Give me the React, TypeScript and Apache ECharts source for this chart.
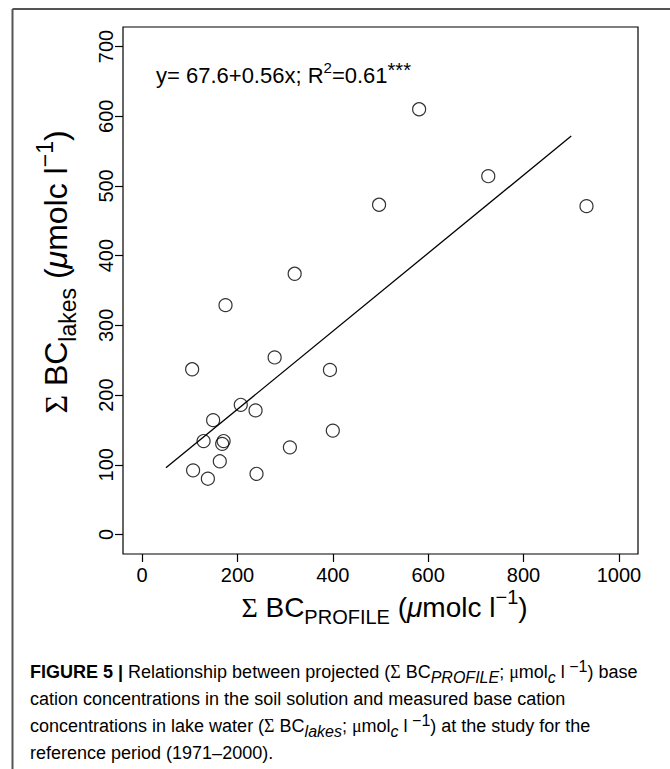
import React, { useEffect, useRef } from "react";
import * as echarts from "echarts";

// Observed data: sum BC in soil profile (x) vs sum BC in lakes (y)
const xValues = [105, 175, 278, 207, 238, 149, 129, 171, 168, 310, 163, 107, 138, 240, 581, 726, 497, 932, 394, 400, 320];
const yValues = [237, 329, 254, 186, 178, 164, 134, 134, 130, 125, 105, 92, 80, 87, 610, 514, 473, 471, 236, 149, 374];

const xTicks = [0, 200, 400, 600, 800, 1000];
const yTicks = [0, 100, 200, 300, 400, 500, 600, 700];

// Regression line shown in the figure
const fitIntercept = 67.6;
const fitSlope = 0.56;
const fitRange = [50, 900];

const SANS = "Liberation Sans";
const SERIF = "Liberation Serif";

function richFor(F: number, H: number, color: string, subRatio = 0.7) {
  const s = Math.round(F * subRatio);
  return {
    m: { fontSize: F, lineHeight: H, fontFamily: SANS, color, verticalAlign: "middle" },
    b: { fontSize: F, lineHeight: H, fontFamily: SANS, fontWeight: "bold", color: "#1a1a1a", verticalAlign: "middle" },
    g: { fontSize: F, lineHeight: H, fontFamily: SERIF, color, verticalAlign: "middle" },
    i: { fontSize: F, lineHeight: H, fontFamily: SANS, fontStyle: "italic", color, verticalAlign: "middle" },
    sub: { fontSize: s, lineHeight: s, fontFamily: SANS, color, verticalAlign: "bottom" },
    subi: { fontSize: s, lineHeight: s, fontFamily: SANS, fontStyle: "italic", color, verticalAlign: "bottom" },
    sup: { fontSize: s, lineHeight: s, fontFamily: SANS, color, verticalAlign: "top" },
    ast: { fontSize: Math.round(F * 0.9), lineHeight: Math.round(F * 0.9), fontFamily: SANS, color, verticalAlign: "top" },
  };
}

export default function App() {
  const ref = useRef<HTMLDivElement>(null);
  useEffect(() => {
    if (!ref.current) return;
    const chart = echarts.init(ref.current, undefined, { renderer: "svg" });
    const points = xValues.map((x, i) => [x, yValues[i]]);
    const fit = fitRange.map((x) => [x, fitIntercept + fitSlope * x]);

    const gridLeft = 123;
    const gridRight = 638;
    const gridTop = 27;
    const gridBottom = 554;

    const option: any = {
      animation: false,
      grid: {
        left: gridLeft,
        top: gridTop,
        width: gridRight - gridLeft,
        height: gridBottom - gridTop,
        show: true,
        borderColor: "#000",
        borderWidth: 1.2,
        backgroundColor: "#fff",
        containLabel: false,
        outerBoundsMode: "none",
      },
      xAxis: {
        type: "value",
        min: -40,
        max: 1040,
        position: "bottom",
        axisLine: { show: false, onZero: false },
        splitLine: { show: false },
        axisTick: { show: true, inside: false, customValues: xTicks, length: 8, lineStyle: { color: "#000", width: 1.2 } },
        axisLabel: {
          customValues: xTicks,
          fontSize: 20,
          fontFamily: SANS,
          color: "#000",
          margin: 11,
          formatter: (v: number) => String(v),
        },
      },
      yAxis: {
        type: "value",
        min: -28,
        max: 728,
        position: "left",
        axisLine: { show: false, onZero: false },
        splitLine: { show: false },
        axisTick: { show: true, inside: false, customValues: yTicks, length: 8, lineStyle: { color: "#000", width: 1.2 } },
        axisLabel: {
          customValues: yTicks,
          rotate: 90,
          fontSize: 20,
          fontFamily: SANS,
          color: "#000",
          margin: 7,
          formatter: (v: number) => String(v),
        },
      },
      series: [
        {
          type: "line",
          data: fit,
          showSymbol: false,
          symbol: "none",
          silent: true,
          lineStyle: { color: "#000", width: 1.3 },
          z: 2,
        },
        {
          type: "scatter",
          data: points,
          symbol: "circle",
          symbolSize: 13,
          silent: true,
          itemStyle: { color: "rgba(0,0,0,0)", borderColor: "#000", borderWidth: 1.2 },
          z: 3,
        },
      ],
      graphic: [
        {
          type: "line",
          shape: { x1: 12.5, y1: 9, x2: 670, y2: 9 },
          style: { stroke: "#555", lineWidth: 2 },
          silent: true,
        },
        {
          type: "line",
          shape: { x1: 12.5, y1: 9, x2: 12.5, y2: 769 },
          style: { stroke: "#555", lineWidth: 2 },
          silent: true,
        },
        {
          type: "text",
          x: 156,
          y: 75,
          silent: true,
          style: {
            text: "{m|y= 67.6+0.56x; R}{sup|2}{m|=0.61}{ast|***}",
            rich: richFor(22, 31, "#000"),
            align: "left",
            verticalAlign: "middle",
          },
        },
        {
          type: "text",
          x: (gridLeft + gridRight) / 2 + 4,
          y: 607,
          silent: true,
          style: {
            text: "{g|Σ}{m| BC}{sub|PROFILE}{m| (}{i|μ}{m|molc l}{sup|−1}{m|)}",
            rich: richFor(28, 40, "#000"),
            align: "center",
            verticalAlign: "middle",
          },
        },
        {
          type: "text",
          x: 56,
          y: 272,
          rotation: Math.PI / 2,
          silent: true,
          style: {
            text: "{g|Σ}{m| BC}{sub|lakes}{m| (}{i|μ}{m|molc l}{sup|−1}{m|)}",
            rich: richFor(32, 46, "#000", 0.72),
            align: "center",
            verticalAlign: "middle",
          },
        },
        {
          type: "text",
          x: 30,
          y: 658,
          silent: true,
          style: {
            text:
              "{b|FIGURE 5 |}{m| Relationship between projected (}{g|Σ}{m| BC}{subi|PROFILE}{m|; }{g|μ}{m|mol}{subi|c}{m| l}{sup| −1}{m|) base}\n" +
              "{m|cation concentrations in the soil solution and measured base cation}\n" +
              "{m|concentrations in lake water (}{g|Σ}{m| BC}{subi|lakes}{m|; }{g|μ}{m|mol}{subi|c}{m| l}{sup| −1}{m|) at the study for the}\n" +
              "{m|reference period (1971–2000).}",
            rich: richFor(18, 27, "#333", 0.88),
            align: "left",
            verticalAlign: "top",
          },
        },
      ],
    };
    chart.setOption(option);
    return () => chart.dispose();
  }, []);
  return <div ref={ref} style={{ position: "absolute", left: 0, top: 0, width: 670, height: 769 }} />;
}
